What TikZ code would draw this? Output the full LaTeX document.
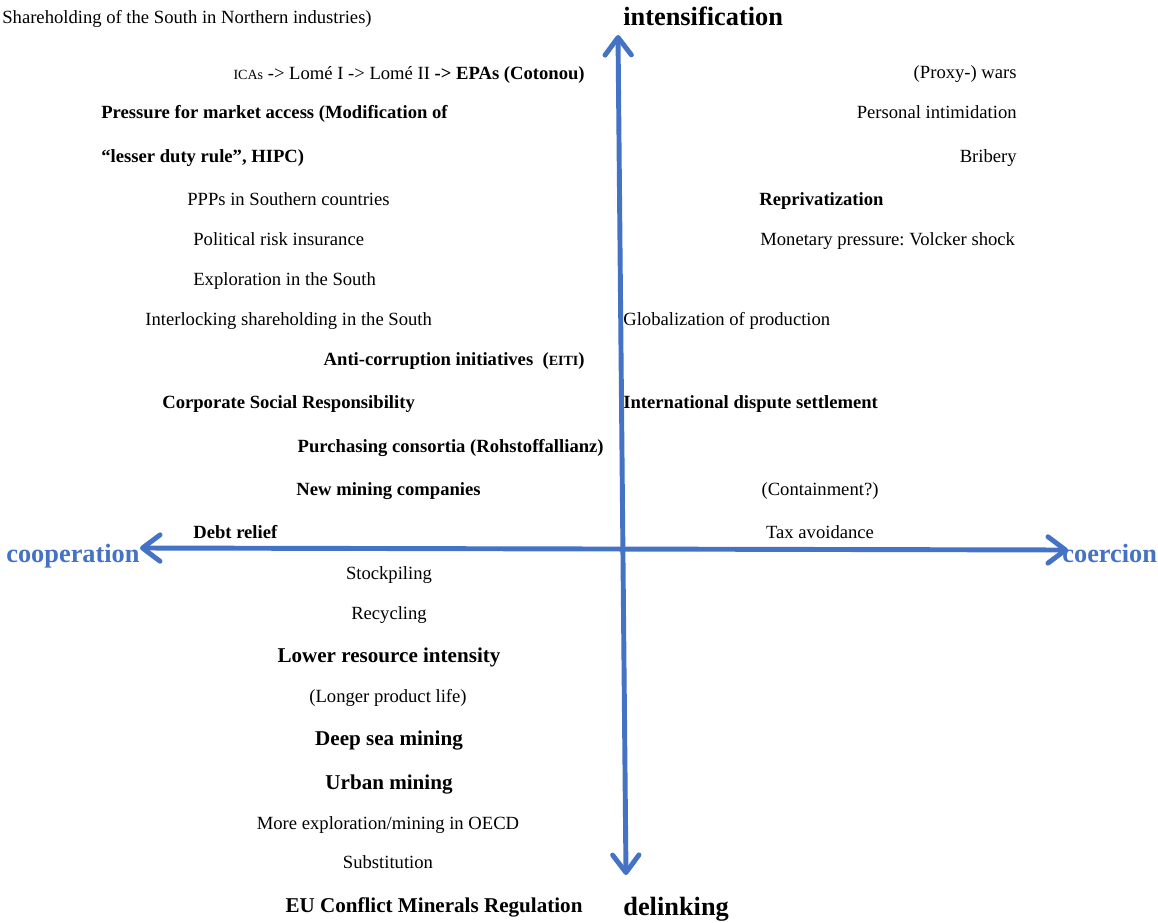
\documentclass[tikz,border=0pt]{standalone}
\usepackage{fontspec}
\setmainfont{Liberation Serif}
\usetikzlibrary{arrows.meta}

\definecolor{axisblue}{HTML}{4472C4}

\tikzset{
  item/.style={font=\fontsize{10.6}{12}\selectfont, inner sep=0pt},
  itemb/.style={font=\fontsize{10.6}{12}\selectfont\bfseries, inner sep=0pt},
  bigb/.style={font=\fontsize{12}{14}\selectfont\bfseries, inner sep=0pt},
  axislabel/.style={font=\fontsize{15}{18}\selectfont\bfseries, inner sep=0pt},
  axisname/.style={axislabel, text=axisblue},
  axis/.style={axisblue, line width=2.8pt, line cap=round,
    {Straight Barb[length=10pt,width=15pt,round]}-{Straight Barb[length=10pt,width=15pt,round]}}
}

\begin{document}
\frenchspacing
\begin{tikzpicture}[x=0.02cm,y=-0.02cm]
  \useasboundingbox (0,0) rectangle (1158,922);

  % axes
  \coordinate (top) at (618,35);
  \coordinate (bottom) at (626,875);
  \coordinate (left) at (140,548);
  \coordinate (right) at (1068,550);

  \begin{scope}[shift={(0,1.5)}]
  \node[axislabel,anchor=base west] (intens) at (623,24) {intensification};
  \node[axislabel,anchor=base west] (delink) at (623,914) {delinking};
  \node[axisname,anchor=base west] (coop) at (6,561) {cooperation};
  \node[axisname,anchor=base west] (coerc) at (1062,561) {coercion};

  % upper left
  \node[item,anchor=base west] (share) at (2,22) {Shareholding of the South in Northern industries)};
  \node[item,anchor=base east] (lome) at (585,78) {{\fontsize{8}{9}\selectfont ICAs} -> Lomé I -> Lomé II \textbf{-> EPAs (Cotonou)}};
  \node[itemb,anchor=base west] (press) at (101,117) {Pressure for market access (Modification of};
  \node[itemb,anchor=base west] (lesser) at (101,161) {“lesser duty rule”, HIPC)};
  \node[item,anchor=base west] (ppp) at (187,204) {PPPs in Southern countries};
  \node[item,anchor=base west] (risk) at (193,244) {Political risk insurance};
  \node[item,anchor=base west] (explo) at (193,284) {Exploration in the South};
  \node[item,anchor=base west] (interl) at (145,324) {Interlocking shareholding in the South};
  \node[itemb,anchor=base east] (anti) at (585,364) {Anti-corruption initiatives\ \ ({\fontsize{8}{9}\selectfont EITI})};
  \node[itemb,anchor=base west] (csr) at (162,407) {Corporate Social Responsibility};
  \node[itemb,anchor=base east] (purch) at (604,451) {Purchasing consortia (Rohstoffallianz)};
  \node[itemb,anchor=base east] (newmin) at (481,494) {New mining companies};
  \node[itemb,anchor=base west] (debt) at (193,537) {Debt relief};

  % upper right
  \node[item,anchor=base east] (wars) at (1017,77) {(Proxy-) wars};
  \node[item,anchor=base east] (intim) at (1017,117) {Personal intimidation};
  \node[item,anchor=base east] (bribe) at (1017,161) {Bribery};
  \node[itemb,anchor=base west] (repriv) at (759,204) {Reprivatization};
  \node[item,anchor=base west] (volck) at (760,244) {Monetary pressure: Volcker shock};
  \node[item,anchor=base west] (glob) at (623,324) {Globalization of production};
  \node[itemb,anchor=base west] (disp) at (623,407) {International dispute settlement};
  \node[item,anchor=base] (contain) at (820,494) {(Containment?)};
  \node[item,anchor=base] (tax) at (820,537) {Tax avoidance};

  % lower left
  \node[item,anchor=base] (stock) at (389,578) {Stockpiling};
  \node[item,anchor=base] (recyc) at (389,618) {Recycling};
  \node[bigb,anchor=base] (lower) at (389,661) {Lower resource intensity};
  \node[item,anchor=base] (longer) at (388,701) {(Longer product life)};
  \node[bigb,anchor=base] (deep) at (389,744) {Deep sea mining};
  \node[bigb,anchor=base] (urban) at (389,788) {Urban mining};
  \node[item,anchor=base] (oecd) at (388,828) {More exploration/mining in OECD};
  \node[item,anchor=base] (subst) at (388,867) {Substitution};
  \node[bigb,anchor=base] (eureg) at (434,911) {EU Conflict Minerals Regulation};
  \end{scope}

  \draw[axis] (bottom) -- (top);
  \draw[axis] (left) -- (right);
\end{tikzpicture}
\end{document}
